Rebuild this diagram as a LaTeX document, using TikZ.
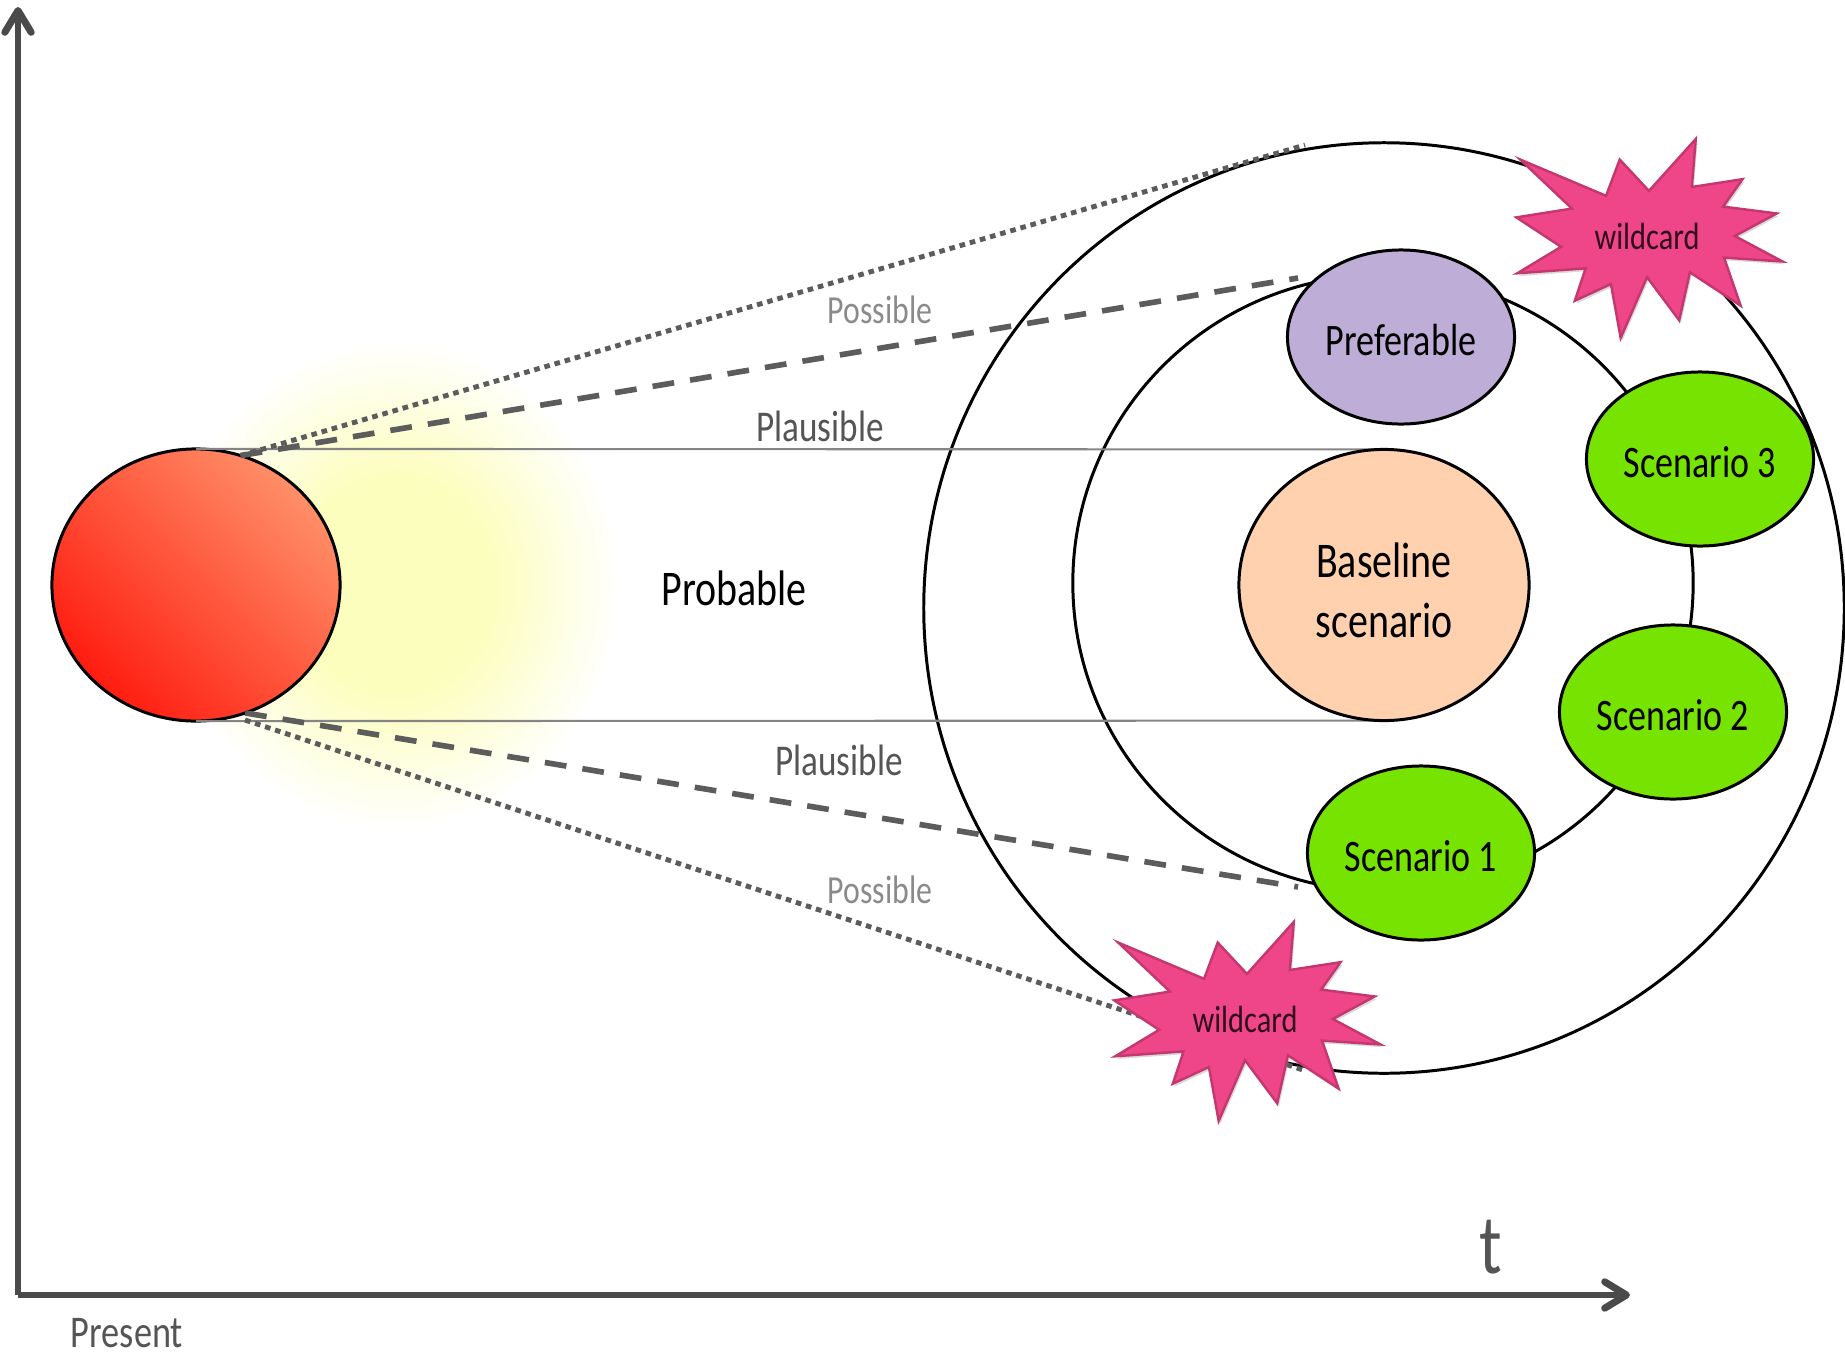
\documentclass[tikz,border=0pt]{standalone}
\usepackage{fontspec}
\setmainfont[FakeStretch=0.8]{Carlito}
\usetikzlibrary{shapes.geometric,shadows,arrows.meta}
\definecolor{axisgray}{HTML}{4A4A4A}
\definecolor{fangray}{HTML}{5C5C5C}
\definecolor{thingray}{HTML}{858585}
\definecolor{lightlabel}{HTML}{8A8A8A}
\definecolor{darklabel}{HTML}{555555}
\definecolor{glowyellow}{HTML}{FCFEBE}
\definecolor{sunlow}{HTML}{FF1C10}
\definecolor{sunhigh}{HTML}{FF8F68}
\definecolor{basepeach}{HTML}{FFD1AE}
\definecolor{prefpurple}{HTML}{BEADD6}
\definecolor{scengreen}{HTML}{76E400}
\definecolor{burstpink}{HTML}{EF4689}
\definecolor{burstedge}{HTML}{C4386F}
\pgfdeclareradialshading{glow}{\pgfpoint{0bp}{0bp}}{color(0bp)=(glowyellow); color(11bp)=(glowyellow); color(25bp)=(white); color(50bp)=(white)}
\begin{document}
\begin{tikzpicture}[
    x=0.01cm, y=-0.01cm,
    ring/.style={ellipse, draw, line width=0.85pt, inner sep=0pt, outer sep=0pt},
    scen/.style={ring, minimum width=2.27cm, minimum height=1.74cm, fill=scengreen, font=\fontsize{12.8}{15}\selectfont, text height=10.5pt, text depth=0pt},
    axis/.style={-{Straight Barb[length=6.2pt,width=7.5pt,line width=2pt,round]}, line width=1.8pt, color=axisgray},
    possline/.style={line width=1.4pt, fangray, dash pattern=on 1.6pt off 1.4pt},
    plauline/.style={line width=1.6pt, fangray, dash pattern=on 6.2pt off 4.6pt},
    probline/.style={line width=0.6pt, thingray},
    burst/.style={fill=burstpink, draw=burstedge, line width=0.7pt, line join=miter, drop shadow={shadow xshift=0.5pt, shadow yshift=-0.8pt, opacity=0.3}},
    burst label/.style={font=\fontsize{10.8}{13}\selectfont, text=black!80!burstpink},
    possible/.style={font=\fontsize{11.3}{14}\selectfont, text=lightlabel},
    plausible/.style={font=\fontsize{12.5}{15}\selectfont, text=darklabel}
]
\useasboundingbox (0,0) rectangle (1845,1354);

% Glow behind the present
\shade[shading=glow] (170,340) rectangle (620,830);

% Axes
\coordinate (origin) at (18,1295);
\coordinate (ytop) at (18,7);
\coordinate (xend) at (1630,1295);
\draw[axis] (origin) -- (ytop);
\draw[axis] (origin) -- (xend);

% Rings
\node[ring, minimum width=9.2cm, minimum height=9.3cm] (possring) at (1384,608) {};
\node[ring, minimum width=6.2cm, minimum height=6.16cm] (plauring) at (1383,583) {};

% Present
\coordinate (lowstart) at (245,720);
\node[ring, minimum width=2.88cm, minimum height=2.72cm, bottom color=sunlow, top color=sunhigh, shading angle=-45] (present) at (196,585) {};

% Fan
\coordinate (posshigh) at (1305,145);
\coordinate (plauhigh) at (1298,278);
\coordinate (plaulow) at (1298,887);
\coordinate (posslow) at (1306,1071);
\node[ring, draw=none, minimum width=2.9cm, minimum height=2.71cm] (baseghost) at (1384,585) {};
\draw[probline] (present.north) -- (baseghost.north);
\draw[probline] (present.south) -- (baseghost.south);
\draw[possline] (present.71) -- (posshigh);
\draw[plauline] (present.71) -- (plauhigh);
\draw[plauline] (present.-69) -- (plaulow);
\draw[possline] (lowstart) -- (posslow);

% Scenarios
\node[ring, minimum width=2.9cm, minimum height=2.71cm, fill=basepeach, align=center, font=\fontsize{14.2}{17}\selectfont] (baseline) at (1384,585) {\rule{0pt}{13pt}Baseline\\scenario};
\node[scen, fill=prefpurple] (pref) at (1401,337) {Preferable};
\node[scen] (scen3) at (1700,459) {Scenario 3};
\node[scen] (scen2) at (1673,712) {Scenario 2};
\node[scen] (scen1) at (1421,853) {Scenario 1};

% Wildcards
\foreach \cx/\cy/\nm in {1647/236/wildtop, 1245/1019/wildlow} {
  \draw[burst, shift={(\cx,\cy)}, xscale=0.975, yscale=0.98] (-130,-78) -- (-42,-41) -- (-28,-78) -- (2,-46) -- (50,-99) -- (46,-50) -- (98,-58) -- (78,-30) -- (133,-23) -- (90,0) -- (139,26) -- (79,22) -- (96,71) -- (44,37) -- (33,86) -- (0,42) -- (-27,104) -- (-37,49) -- (-74,66) -- (-63,33) -- (-133,38) -- (-88,11) -- (-134,-19) -- (-77,-28) -- cycle;
  \node[burst label] (\nm) at (\cx,\cy) {wildcard};
}

% Labels
\node[possible] (possup) at (880,310) {Possible};
\node[plausible] (plauup) at (820,426) {Plausible};
\node[font=\fontsize{14.2}{17}\selectfont] (prob) at (734,588) {Probable};
\node[plausible] (plaudown) at (839,760) {Plausible};
\node[possible] (possdown) at (880,890) {Possible};
\node[text=darklabel, font=\fontsize{24}{28}\selectfont] (tlabel) at (1491,1247) {t};
\node[text=darklabel, font=\fontsize{12.9}{15}\selectfont, anchor=base] (now) at (127,1347) {Present};
\end{tikzpicture}
\end{document}
